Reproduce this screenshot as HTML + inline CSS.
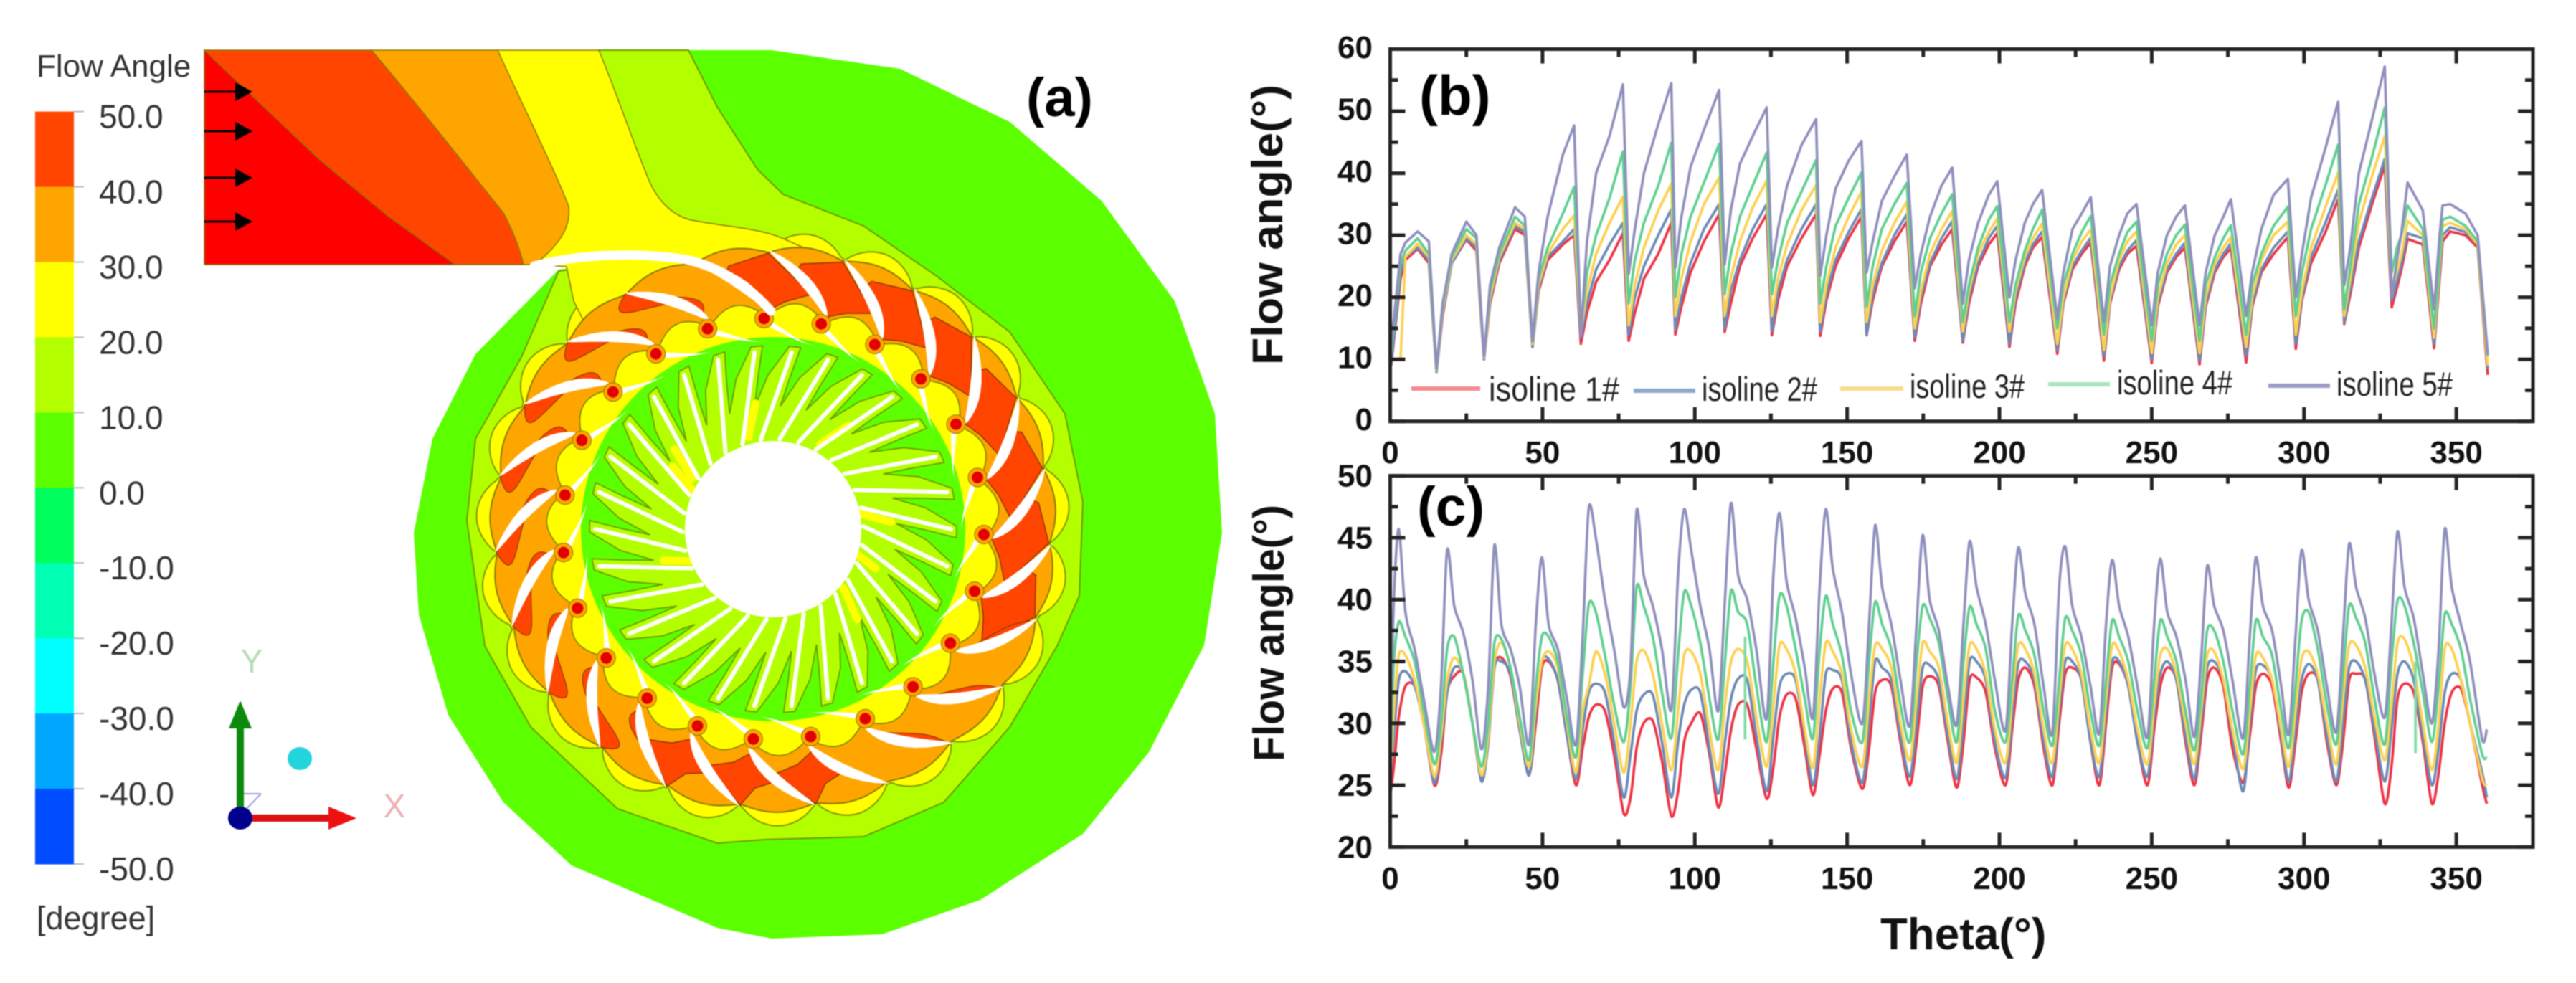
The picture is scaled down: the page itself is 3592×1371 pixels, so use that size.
<!DOCTYPE html>
<html lang="en">
<head>
<meta charset="utf-8">
<title>Flow angle contour and isoline charts</title>
<style>
html,body{margin:0;padding:0;background:#fff;}
svg{display:block;font-family:"Liberation Sans",Arial,sans-serif;filter:blur(0.8px);}
</style>
</head>
<body>
<svg id="fig" width="3592" height="1371" viewBox="0 0 3592 1371" xmlns="http://www.w3.org/2000/svg">
  <rect x="0" y="0" width="3592" height="1371" fill="#fff"/>

  <g id="panelA">
    <g id="colorbar"></g>
    <text x="51" y="107" font-size="44" fill="#333">Flow Angle</text>
    <text x="51" y="1296" font-size="45" fill="#333">[degree]</text>

    <polygon fill="#5cff00" points="960,70 1076,70 1255,96 1408,170 1536,280 1638,420 1694,577 1704,743 1679,900 1602,1049 1510,1163 1367,1255 1230,1303 1076,1309 1000,1294 797,1207 702,1119 625,997 584,857 577,743 603,612 663,494 779,376 830,369 860,200"/>
    <polygon fill="#b3ff00" stroke="#6f9a00" stroke-width="2" points="835,70 960,70 1000,149 1056,236 1092,271 1204,315 1306,385 1408,463 1485,577 1510,700 1505,831 1474,901 1408,1014 1316,1119 1204,1167 1066,1171 1000,1176 861,1128 740,1014 676,901 651,726 663,612 727,498 779,378 830,372 835,200"/>
    <g id="rotorOuter"></g>

    <g stroke="#8a7a00" stroke-width="1.5">
      <path fill="#ffff00" d="M694 70 L835 70 C860 130 885 205 906 254 C918 280 935 298 960 306 C1000 315 1060 318 1090 332 L1120 345 L1090 380 L1000 420 L880 470 L830 480 L800 420 L790 372 L746 369 Z"/>
      <path fill="#ffa500" d="M518 70 L694 70 C730 150 775 240 793 288 C797 320 775 345 746 369 L634 369 Z"/>
      <path fill="#ff4500" d="M285 70 L518 70 C590 155 660 245 702 297 Q722 335 730 369 L285 369 Z"/>
      <path fill="#ff0000" d="M285 70 L446 223 L542 302 L635 369 L285 369 Z"/>
    </g>
    <g id="rotorInner"></g>

    <path d="M745 371 C800 356 880 350 957 362 C1010 374 1050 405 1075 434" fill="none" stroke="#fff" stroke-width="13" stroke-linecap="round"/>

    <g fill="#000" stroke="#000">
      <g><line x1="285" y1="128" x2="330" y2="128" stroke-width="3"/><polygon points="328,115 352,128 328,141" stroke="none"/></g>
      <g><line x1="285" y1="183" x2="330" y2="183" stroke-width="3"/><polygon points="328,170 352,183 328,196" stroke="none"/></g>
      <g><line x1="285" y1="248" x2="330" y2="248" stroke-width="3"/><polygon points="328,235 352,248 328,261" stroke="none"/></g>
      <g><line x1="285" y1="309" x2="330" y2="309" stroke-width="3"/><polygon points="328,296 352,309 328,322" stroke="none"/></g>
    </g>

    <g>
      <line x1="340" y1="1132" x2="364" y2="1107" stroke="#a0a0e8" stroke-width="2"/>
      <line x1="340" y1="1107" x2="364" y2="1107" stroke="#a0a0e8" stroke-width="2"/>
      <rect x="330" y="1012" width="10" height="125" fill="#0c8a0c"/>
      <polygon points="335,977 351,1016 319,1016" fill="#0c8a0c"/>
      <rect x="340" y="1136" width="122" height="10" fill="#dd1111"/>
      <polygon points="497,1141 458,1125 458,1157" fill="#ee1111"/>
      <ellipse cx="335" cy="1141" rx="17" ry="16" fill="#00008c"/>
      <ellipse cx="418" cy="1058" rx="17" ry="16" fill="#22d4dc"/>
      <text x="351" y="938" font-size="46" fill="#b4dcb4" text-anchor="middle">Y</text>
      <text x="550" y="1140" font-size="46" fill="#eeb0b0" text-anchor="middle">X</text>
    </g>
    <text x="1431" y="162" font-size="76" font-weight="bold" fill="#000">(a)</text>
  </g>

  <text transform="translate(1788,509) rotate(-90)" font-size="60" font-weight="bold" fill="#111" textLength="391" lengthAdjust="spacingAndGlyphs">Flow angle(°)</text>
  <text transform="translate(1790,1062) rotate(-90)" font-size="60" font-weight="bold" fill="#111" textLength="358" lengthAdjust="spacingAndGlyphs">Flow angle(°)</text>
  <text x="2622" y="1324" font-size="62" font-weight="bold" fill="#111">Theta(°)</text>

  <g id="chartB"></g>
  <g id="chartC"></g>

  <text x="1979" y="160" font-size="78" font-weight="bold" fill="#000">(b)</text>
  <text x="1976" y="733" font-size="77" font-weight="bold" fill="#000">(c)</text>

  <g>
    <g><line x1="1968" y1="542" x2="2064" y2="542" stroke="#f58a8e" stroke-width="6"/><text x="2076" y="559" font-size="47" fill="#222" textLength="182" lengthAdjust="spacingAndGlyphs">isoline 1#</text></g>
    <g><line x1="2278" y1="545" x2="2364" y2="545" stroke="#8ea8cc" stroke-width="6"/><text x="2373" y="559" font-size="47" fill="#222" textLength="161" lengthAdjust="spacingAndGlyphs">isoline 2#</text></g>
    <g><line x1="2566" y1="542" x2="2654" y2="542" stroke="#fbdc8c" stroke-width="6"/><text x="2663" y="555" font-size="47" fill="#222" textLength="160" lengthAdjust="spacingAndGlyphs">isoline 3#</text></g>
    <g><line x1="2856" y1="536" x2="2942" y2="536" stroke="#a8e6c0" stroke-width="6"/><text x="2952" y="550" font-size="47" fill="#222" textLength="161" lengthAdjust="spacingAndGlyphs">isoline 4#</text></g>
    <g><line x1="3163" y1="538" x2="3249" y2="538" stroke="#9c9cc8" stroke-width="6"/><text x="3258" y="552" font-size="47" fill="#222" textLength="162" lengthAdjust="spacingAndGlyphs">isoline 5#</text></g>
  </g>
</svg>

<script>
/* ---------- chart data: panel (b) ---------- */
var thetaB = [0.3,3.4,5,9,12.7, 15.2,17.2,20.2,25,28.3, 30.8,32.8,35.8,41,44.2, 46.7,48.7,51.7,56.7,60.4, 62.6,64.6,67.6,72,76.4, 78.3,80.3,83.3,88,92.3, 93.6,95.6,98.6,103,108, 109.8,111.8,114.8,119,123.6, 125.3,127.3,130.3,135,139.8, 141.2,143.2,146.2,150.5,154.7, 156.4,158.4,161.4,165.5,169.6, 172.2,174.2,177.2,181,184.5, 188,190,193,196.5,199.3, 203.3,205.3,208.3,211,214, 219,221,224,227,230, 234.3,236.3,239.3,242,245, 250,252,255,258,260.9, 265.7,267.7,270.7,273.5,276, 281,283,286,290,294.7, 297.3,299.3,302.3,307,311.2, 313.2,315.2,318,322,326.5, 328.8,330.5,332,334,339, 342.7,344.5,345.5,348,353,357,360.3];
var isoline1B = [9,23,26,27.8,25.5, 8,17,25.5,29.3,27.5, 10,19,25.5,31,30, 12,21,26,28.5,30, 12.5,17.5,22.5,26,30.3, 13,17.5,23,27,32, 14,18.5,24,29,33.4, 14.4,19,25,29.5,33.4, 13.9,19.5,25,29.5,33.4, 13.8,19.5,25,29.5,33, 13.9,19.5,25,29,32.2, 13,19,25,28.5,31, 12.7,19,25,28.5,30.3, 12,19,25,28,29.7, 10.9,19,24.5,27,28.8, 9.8,19,24.5,27,28.3, 9.4,18.5,24,26.5,28, 9.2,18.5,24,26.5,27.9, 9.5,18.5,24,27,29.7, 11.7,19.5,25.5,30.5,35.8, 15.7,20.5,28,34.5,41.3, 18.4,21.5,24.5,29.4,28.5, 11.8,23,29,30.6,30,28,7.5];
var isoline2B = [9.5,24,26.5,28,26, 8,17.5,25.5,29.5,28, 10,19.5,26,31.5,30.5, 12,21.5,26.5,29,31, 13.5,19,24.5,28.5,32, 14,20,25,30,34.2, 14.8,20,25.5,31,35, 15,21,26,31,35, 14.5,21,26,31,35, 14.5,20.5,26,30.5,34.2, 14,20.5,25.5,30,33.4, 13.5,20,25.5,29.5,32.3, 13,20,25.5,29.5,31.5, 12.5,20,25.5,28.5,30.6, 11.5,19.5,25,27.5,29.6, 10.5,19.5,25,27.5,29.2, 10,19,24.5,27,28.8, 9.8,19,24.5,27,28.7, 10.5,19,24.5,28,30.6, 12.5,20,26.5,32,37.3, 16,21.5,29,35.5,42.3, 19.5,22.5,25.5,30.3,29.5, 12.5,24,30,31.3,30.5,28.5,8.5];
var isoline3B = [10,10,26.5,28.6,26.5, 8.2,18,26,30,28.5, 10.3,20,26.5,32,31, 12.5,22,27,31,33.2, 14.5,21,27,32,36.2, 15.5,22,28,34,38.3, 17,23,29,35,39.3, 17,23,29,34.5,38.8, 17,23,28.5,34,38.1, 16,22,28,33,37, 16,22,27.5,32,35.4, 15,21,27,31,33.9, 14.5,21,27,30.5,32.7, 14.5,21,26.5,29.5,31.9, 12.5,20,26,29,30.9, 11.5,20,26,29,30.6, 11,20,25.5,28.5,30, 11,20,25.5,28,29.7, 12,20,26,30,32.2, 14,21,28,34.5,40.1, 17,23,32,39,46, 21,24,27,32.3,30, 13.5,25,31.5,32,31,28.5,9];
var isoline4B = [11,25.5,27.5,29.5,27, 8.3,18.5,26.5,31,29.5, 10.5,21,27,33,31.5, 12.8,23,28,33.5,37.8, 15,24,30,36,43.5, 19,26,32,38,44.9, 20,27,33,38.5,44.7, 20.5,27,33,38,43.3, 20.5,26,32,37,42.1, 19,25,31.5,36,40.1, 18.5,25,31,35,38.4, 17,24,29.5,33.5,36.6, 16,22,28,32.5,34.7, 16,22,27.5,31,34.1, 15,22,27,30.5,33.1, 14,22,27,30.5,32.2, 13,22,27,30,31.7, 13,22,26.5,29.5,31.6, 14,22,27,31.5,34.6, 17,24,31,38,44.6, 18,25,35,42,50.6, 24,28,30,34.8,31, 15,26,32.5,33,31.5,29,10.5];
var isoline5B = [12,27,28.8,30.6,29, 8.5,19,27,32.2,30, 10.5,22,28,34.5,33, 13,24,33,43,47.7, 13.8,29,40,46,54.3, 23.8,31,40,47.9,54.5, 24.8,33,41,47,53.4, 25.3,34,41.5,46,50.6, 24.8,31,38,44.5,48.7, 23.5,30,37.5,42,45.2, 24,29,35.5,39.5,43, 21.5,27,33,38,40.9, 19,26,32,36.5,38.7, 20,26,32,35,37.3, 16.5,24,31,33.5,36.1, 16,25,30,33.5,35, 15.5,24,30,33,34.8, 15.5,24,30,33,35.8, 17,24,31,36.5,39.1, 20,27,36,44,51.5, 22,28,40,48,57.2, 20,26,30.5,38.5,34, 18,30,34.8,35,33.5,30,10.8];

var xTicksMajor = [0,50,100,150,200,250,300,350];
var xTicksMinor = [25,75,125,175,225,275,325];
var yTicksMajorB = [0,10,20,30,40,50,60];
var yTicksMinorB = [5,15,25,35,45,55];

/* ---------- chart data: panel (c) ---------- */
var thetaC = [0.2,1.2,2.8,5,8,11, 14.5,16.7,18.7,21,24,27, 30,32.2,34.2,36.5,39.5,42.5, 45.6,47.8,49.8,52,55,58, 61,63.2,65.2,67.5,70.5,73.5, 76.7,78.9,80.9,83.2,86.2,89.2, 92.3,94.5,96.5,98.8,101.8,104.8, 107.7,109.9,111.9,114.2,117.2,120.2, 123.6,125.8,127.8,130.1,133.1,136.1, 138.8,141,143,145.3,148.3,151.3, 155,157.2,159.2,161.5,164.5,167.5, 170.6,172.8,174.8,177.1,180.1,183.1, 186,188.2,190.2,192.5,195.5,198.5, 202,204.2,206.2,208.5,211.5,214.5, 217.4,219.6,221.6,223.9,226.9,229.9, 232.8,235,237,239.3,242.3,245.3, 248.6,250.8,252.8,255.1,258.1,261.1, 264,266.2,268.2,270.5,273.5,276.5, 280,282.2,284.2,286.5,289.5,292.5, 295,297.2,299.2,301.5,304.5,307.5, 310.6,312.8,314.8,317.1,320.1,323.1, 326.5,328.7,330.7,333,336,339, 342,344.2,346.2,348.5,351.5,354.5,358.5,360];
var isoline1C = [24.5,26.5,30.5,33,33,30, 25,27.5,32.5,33.8,34,30, 25.4,28.5,34.5,35.3,33.8,29.5, 25.9,30,34.5,35,33.5,29, 25,28,30.5,31.5,31,27.5, 22.7,24,28,30,30.2,27, 22.5,24.5,28.5,30,30.8,27.5, 23.2,26,29.5,31.5,31.5,28, 23.9,26.5,30.5,32.3,32,28, 24.2,27.5,31,32.8,32.5,28, 24.7,28,32.5,33.5,33,28.5, 25,28.5,33,33.8,33,28.5, 24.8,28.5,33.5,33.7,32.5,28, 25,29.5,33.5,34.5,33,28, 25,30,34,34.5,33.5,28.5, 25,30,34.5,34.8,33,28.5, 25,29.5,33,34.5,33.5,28.5, 25,29,33.5,34.5,33,28, 25.2,29,33,34,33,28.5, 24.8,28.5,32.5,34,33.5,28.5, 25,28.5,33.5,34,33.5,29, 23.5,26.5,32,33.2,32.5,28.5, 23.5,26,30,32.5,32.8,30,25,23.5];
var isoline2C = [26,29,33.5,34.2,33,30, 25.2,28.5,32.5,34.5,34,30, 25.3,28.5,34.5,35,34,29.5, 25.8,31,35,35.2,33.5,29, 25.5,29.5,32.5,33.2,32.5,28.5, 24,27.5,31,32.3,32.3,28.5, 24,28.5,31.5,32.7,32.5,28, 24.3,28.5,32,33.6,33.5,29, 24.5,29,33,34,33.5,29, 25,29,34,34.3,33.5,28.5, 25.2,30,35,34.5,33.5,29, 25.7,30,34.5,34.7,33.5,29, 25.5,30,35,35,33.5,28.5, 25.6,30.5,34.8,35,33.5,28.5, 25.7,31,35,35,33.5,28.5, 25.7,31,35,35,33,28.5, 25.7,30.5,34,35,33.5,29, 25.5,30,34.5,35,33.5,29, 24.5,30,34.3,34.7,33.5,29, 25.3,29.5,33.5,34.8,33.5,29, 25.3,30,34.5,35,33.5,29.5, 25.3,29.5,34,35,33.5,29, 25,28,32.5,34,33.5,30,26,24];
var isoline3C = [26.5,31,35.5,35.5,33.5,30, 25.7,29,33.5,35.3,34,30, 25.8,29,35,36.5,34.5,30, 26.5,31.5,35,35.8,34.5,30, 26,31,33,35.8,34,30, 26,30,35,35.9,34,30, 26.2,31,35.5,35.8,34,29.5, 26.2,31.5,35,36,35,30.5, 26.5,31.5,36.3,36,34,29.5, 26.4,32,36.5,35.8,34,29.5, 26.5,32,36.3,36,34.5,30, 27,32,36.5,35.8,34.5,30, 26.8,32,36.3,36,34,29.5, 26.8,32,36.3,36,34,29.5, 26.8,32,36.3,36,34,29.5, 26.8,32,36.3,35.8,33.5,29.5, 26.7,31.5,35.5,36,34,30, 26.7,31,35.5,35.8,33.5,29.5, 26.3,31,35.5,35.3,33.5,29.5, 26.5,31,35.2,35.8,34,30, 26.7,32,36.3,36.3,34.5,30.5, 27,31.5,36.5,36.8,34.5,30, 26.2,30,36,36,33.5,30,25.5,25];
var isoline4C = [28,35,38.2,37,35,31, 26.7,30,36,37,34,30, 26.5,30,36.5,36.8,34.5,30.5, 27,33,37,37,35,30.5, 27.3,34,39.6,39,35.5,31.5, 28.5,33,41,39.5,37,32.5, 28.8,35.5,40.6,39.5,36.5,32, 28.7,35,40.7,39,38,33, 28.5,35,40.3,39.5,36,32, 28.8,36,40.3,38,35.5,31, 28.5,35,39.8,38,36,31.5, 28.5,35,39.5,38.5,36.5,32, 28.5,35,39.4,38,36,31, 28.5,33.5,38.7,37.5,35.5,31, 28.2,33.5,38.5,37.5,35.5,31, 28.2,33.5,38.3,37,35,31, 28,33.5,38.3,37,35,31, 27.8,32,37.5,37.5,35,31, 27.5,33,38.3,37,35.5,31, 28,33,38.3,39,36,31.5, 28.3,34,39.5,38.5,36.5,32, 28.3,35,39.9,39.5,36.5,32.5, 28.5,33,38.8,38,36,32,27.5,27.2];
var isoline5C = [30,40,45.7,39,36,32, 27.7,33,44,39.5,37.3,33.5, 27.9,33,44.4,38,36,33, 28.3,38,43.4,38,36,32, 28.3,37,47.4,45,40,36, 31.3,34.5,47.2,42,39.5,36, 31.1,42,47.3,44,39.5,36, 31,40,47.8,42,40,36, 30.4,42,47,41.5,38.5,34.5, 30.5,41,47.3,42.5,39,34, 30,38,46,41,38,33.5, 29.8,38,45.2,40,37.5,33, 29.9,38,44.7,41,38,33.5, 29.4,38,44.2,40.5,38,33, 29.2,41,44.3,39.5,37,33, 29.2,38,43.2,39.5,37,33, 28.9,38,43.3,39,37,33.5, 28.9,35,42.7,39.5,37.5,33.5, 28.8,37,43.4,39.5,37.5,33, 29.1,37,44,40,37.5,33, 29.3,37,44.5,41,38.5,34, 30.5,38,45.5,41,38.5,34, 30,36,45.7,41,38,35,28.7,29.5];
var strayThetaC = [116.5,336.6];
var strayTopC = [37,35];
var strayBottomC = [28.7,27.6];

var yTicksMajorC = [20,25,30,35,40,45,50];
var yTicksMinorC = [22.5,27.5,32.5,37.5,42.5,47.5];

var seriesNames = ['isoline-1','isoline-2','isoline-3','isoline-4','isoline-5'];
var seriesColors = ['#ee3344','#6a8ab8','#fdd050','#5fcf90','#8f8fbe'];

/* ---------- helpers ---------- */
var NS = 'http://www.w3.org/2000/svg';
function mk(parent, tag, props, text){
  var e = document.createElementNS(NS, tag);
  for (var k in props) e.setAttribute(k, props[k]);
  if (text !== undefined) e.textContent = text;
  parent.appendChild(e);
  return e;
}

/* ---------- line charts ---------- */
function drawChart(host, cfg){
  var xScale = function(t){ return cfg.left + t * 4.2475; };
  var yScale = function(v){ return cfg.bottom - (v - cfg.vMin) * cfg.pxPerUnit; };
  var right = cfg.right, top = cfg.top, bottom = cfg.bottom, left = cfg.left;

  var i;
  for (i = 0; i < cfg.series.length; i++){
    var vals = cfg.series[i], d = '';
    var pts = vals.map(function(v, j){ return [xScale(cfg.theta[j]), yScale(v)]; });
    if (cfg.smooth){
      d = 'M' + pts[0][0].toFixed(1) + ' ' + pts[0][1].toFixed(1);
      for (var j = 0; j < pts.length - 1; j++){
        var p0 = pts[Math.max(j - 1, 0)], p1 = pts[j], p2 = pts[j + 1], p3 = pts[Math.min(j + 2, pts.length - 1)];
        var k = 1 / 7;
        d += 'C' + (p1[0] + (p2[0] - p0[0]) * k).toFixed(1) + ' ' + (p1[1] + (p2[1] - p0[1]) * k).toFixed(1) + ' ' +
             (p2[0] - (p3[0] - p1[0]) * k).toFixed(1) + ' ' + (p2[1] - (p3[1] - p1[1]) * k).toFixed(1) + ' ' +
             p2[0].toFixed(1) + ' ' + p2[1].toFixed(1);
      }
    } else {
      d = 'M' + pts.map(function(q){ return q[0].toFixed(1) + ' ' + q[1].toFixed(1); }).join('L');
    }
    var line = mk(host, 'path', {d: d, fill: 'none', stroke: seriesColors[i], 'stroke-width': 3.6, 'stroke-linejoin': 'round'});
    
    
  }

  if (cfg.stray){
    for (i = 0; i < cfg.stray.theta.length; i++){
      var st = mk(host, 'line', {x1: xScale(cfg.stray.theta[i]), x2: xScale(cfg.stray.theta[i]), y1: yScale(cfg.stray.top[i]), y2: yScale(cfg.stray.bottom[i]), stroke: '#7fdca6', 'stroke-width': 3.6});
      
      
    }
  }

  var frame = mk(host, 'rect', {x: left, y: top, width: right - left, height: bottom - top, fill: 'none', stroke: '#222', 'stroke-width': 5});
  
  

  function tickPath(vals, len, axis){
    var d = '';
    vals.forEach(function(v){
      if (axis === 'x'){
        var x = xScale(v).toFixed(1);
        d += 'M' + x + ' ' + top + 'V' + (top + len) + 'M' + x + ' ' + bottom + 'V' + (bottom - len);
      } else {
        var y = yScale(v).toFixed(1);
        d += 'M' + left + ' ' + y + 'H' + (left + len) + 'M' + right + ' ' + y + 'H' + (right - len);
      }
    });
    return d;
  }
  var tx = mk(host, 'path', {d: tickPath(xTicksMajor, 20, 'x') + tickPath(xTicksMinor, 11, 'x'), stroke: '#222', 'stroke-width': 5, fill: 'none'});
  
  
  var ty = mk(host, 'path', {d: tickPath(cfg.yMajor, 21, 'y') + tickPath(cfg.yMinor, 11, 'y'), stroke: '#222', 'stroke-width': 5, fill: 'none'});
  
  

  xTicksMajor.forEach(function(v){
    var t = mk(host, 'text', {x: xScale(v), y: cfg.xLabelY, 'text-anchor': 'middle', 'font-size': 44, 'font-weight': 'bold', fill: '#111'}, String(v));
    
    
  });
  cfg.yMajor.forEach(function(v){
    var t = mk(host, 'text', {x: 1914, y: yScale(v) + cfg.yLabelDy, 'text-anchor': 'end', 'font-size': 44, 'font-weight': 'bold', fill: '#111'}, String(v));
    
    
  });
}

drawChart(document.getElementById('chartB'), {
  id: 'chart-b', left: 1938.5, right: 3532, top: 68.5, bottom: 587.7, vMin: 0, pxPerUnit: 8.653,
  theta: thetaB, series: [isoline1B, isoline2B, isoline3B, isoline4B, isoline5B],
  smooth: false, yMajor: yTicksMajorB, yMinor: yTicksMinorB, xLabelY: 646, yLabelDy: 12.5
});
drawChart(document.getElementById('chartC'), {
  id: 'chart-c', left: 1938.5, right: 3532, top: 663.6, bottom: 1181.4, vMin: 20, pxPerUnit: 17.26,
  theta: thetaC, series: [isoline1C, isoline2C, isoline3C, isoline4C, isoline5C],
  stray: {theta: strayThetaC, top: strayTopC, bottom: strayBottomC},
  smooth: true, yMajor: yTicksMajorC, yMinor: yTicksMinorC, xLabelY: 1240, yLabelDy: 15
});

/* ---------- colour bar ---------- */
var barColors = ['#ff4500','#ffa500','#ffff00','#b3ff00','#5cff00','#00ff5c','#00ffb3','#00ffff','#00a6ff','#004dff'];
var barLabels = ['50.0','40.0','30.0','20.0','10.0','0.0','-10.0','-20.0','-30.0','-40.0','-50.0'];
(function(){
  var host = document.getElementById('colorbar');
  var top = 155.6, step = 104.94;
  barColors.forEach(function(c, i){
    var r = mk(host, 'rect', {x: 49, y: top + i * step, width: 54, height: step + 0.5, fill: c});
    
    
  });
  barLabels.forEach(function(l, i){
    var y = top + i * step;
    var tick = mk(host, 'line', {x1: 103, x2: 117, y1: y, y2: y, stroke: '#bbb', 'stroke-width': 2});
    
    
    var t = mk(host, 'text', {x: 138, y: y + 23, 'font-size': 46, fill: '#333'}, l);
    
    
  });
})();

/* ---------- rotor / stator contour illustration ---------- */
(function(){
  var cx = 1078, cy = 738, pitch = 360 / 23;
  var rad = Math.PI / 180;
  function P(r, d){ return [cx + r * Math.cos(d * rad), cy + r * Math.sin(d * rad)]; }
  function S(p){ return p[0].toFixed(1) + ',' + p[1].toFixed(1); }
  function closed(list){ return 'M' + list.map(S).join('L') + 'Z'; }
  function radial(fn){
    var out = [];
    for (var d = 0; d < 360; d += 1) out.push(P(fn(d), d));
    return closed(out);
  }
  function phase(d, start){
    var m = (d - start) % pitch;
    if (m < 0) m += pitch;
    return m / pitch;
  }
  var A0 = -91, B0 = -76;
  function bladeAng(a, r){ return a + 15.5 * (390 - r) / 87; }

  var outer = document.getElementById('rotorOuter');
  var inner = document.getElementById('rotorInner');

  var lobe = mk(outer, 'path', {d: radial(function(d){ return 384 + 30 * Math.pow(Math.sin(Math.PI * phase(d, A0)), 0.7); }), fill: '#ffff00', stroke: '#7f9a00', 'stroke-width': 2});
  
  

  var ora = mk(inner, 'path', {d: radial(function(d){ return 386 + 9 * Math.sin(Math.PI * phase(d, A0)); }), fill: '#ffa500', stroke: '#8a7a00', 'stroke-width': 2});
  
  

  /* red-orange passage cells on the upper right */
  var redD = '';
  var i, a;
  for (i = -1; i < 7; i++){
    a = A0 + i * pitch;
    var n = a + pitch;
    redD += closed([
      P(357, bladeAng(a, 357)),
      P(372, a + pitch * 0.45),
      P(385, n),
      P(332, bladeAng(n, 332)),
      P(318, bladeAng(a, 318) + 7),
      P(305, bladeAng(a, 305))
    ]);
  }
  /* bow-tie cells along the bottom */
  for (i = 10; i < 13; i++){
    a = A0 + i * pitch;
    var m = a + pitch;
    var midLow = (bladeAng(a, 362) + bladeAng(m, 362)) / 2;
    var midHigh = (bladeAng(a, 330) + bladeAng(m, 330)) / 2;
    redD += closed([
      P(312, bladeAng(a, 312)),
      P(350, bladeAng(a, 350)),
      P(362, midLow),
      P(388, m),
      P(342, bladeAng(m, 342)),
      P(330, midHigh)
    ]);
  }
  var redCells = mk(inner, 'path', {d: redD, fill: '#ff4500', stroke: '#8a3a00', 'stroke-width': 1.5});
  
  

  /* crescents hugging the vanes on the lower left */
  var cresD = '';
  function crescent(ang, rStart, rSpan, bulge){
    var side1 = [], side2 = [], t;
    for (t = 0; t <= 1.001; t += 0.1){
      var r = rStart - rSpan * t;
      side1.push(P(r, bladeAng(ang, r)));
      side2.unshift(P(r, bladeAng(ang, r) + bulge * Math.sin(Math.PI * t)));
    }
    return closed(side1.concat(side2));
  }
  for (i = 14; i < 22; i++){
    cresD += crescent(A0 + i * pitch, 388, 42, -6.5);
  }
  for (i = 13; i < 22; i++){
    cresD += crescent(A0 + i * pitch, 360, 48, 4.5);
  }
  for (i = 7; i < 10; i++){
    cresD += crescent(A0 + i * pitch, 385, 65, -2.4);
  }
  var cres = mk(inner, 'path', {d: cresD, fill: '#ff4500', stroke: '#8a3a00', 'stroke-width': 1.2});
  
  

  /* inner yellow ring */
  var yel = mk(inner, 'path', {d: radial(function(d){ return 296 + 20 * Math.sin(Math.PI * phase(d, B0)); }), fill: '#ffff00', stroke: '#8a8a00', 'stroke-width': 1.8});
  
  

  /* outer white vanes */
  var vaneD = '';
  for (i = 0; i < 23; i++){
    a = A0 + i * pitch;
    var up = [], dn = [], q;
    for (q = 0; q <= 1.0001; q += 0.1){
      var rr = 390 - 87 * q;
      var bow = 1.0 * Math.sin(Math.PI * q);
      var hw = 1.9 * Math.pow(Math.sin(Math.PI * q), 0.75);
      var ang = a + 15.5 * q + bow;
      up.push(P(rr, ang + hw));
      dn.unshift(P(rr, ang - hw));
    }
    vaneD += closed(up.concat(dn));
  }
  var vanes = mk(inner, 'path', {d: vaneD, fill: '#fff'});
  
  

  /* green impeller disc */
  var disc = mk(inner, 'circle', {cx: cx, cy: cy, r: 268, fill: '#5cff00'});
  
  

  /* yellow-green star around impeller blades */
  var BL = 30, bs = 12, C0 = -97, star = [];
  function bAng(c, r){ return c + 13 * (r - 133) / 115; }
  for (i = 0; i < BL; i++){
    var c = C0 + i * bs;
    star.push(P(256, bAng(c, 256) - 1.8));
    star.push(P(256, bAng(c, 256) + 1.8));
    star.push(P(215, bAng(c, 215) + 4.2));
    star.push(P(172, bAng(c, 172) + 6));
    star.push(P(215, bAng(c + bs, 215) - 4.2));
  }
  var starEl = mk(inner, 'path', {d: closed(star), fill: '#b3ff00', stroke: '#6f9a00', 'stroke-width': 1.8});
  
  

  /* small yellow spindles near the hub */
  var spinR = [157,143,131,150,155,155,137,143];
  var spinA = [-59,-8.5,16,42,-103,-146,159,-153];
  var spinD = '';
  spinA.forEach(function(s, j){
    var p1 = P(spinR[j] - 22, s - 2), p2 = P(spinR[j] + 22, s + 5);
    spinD += 'M' + S(p1) + 'L' + S(p2);
  });
  var spin = mk(inner, 'path', {d: spinD, stroke: '#ffff00', 'stroke-width': 11, 'stroke-linecap': 'round', fill: 'none'});
  
  

  /* thin white impeller blades */
  var bladeD = '';
  for (i = 0; i < BL; i++){
    var cb = C0 + i * bs;
    bladeD += 'M' + S(P(126, bAng(cb, 126))) + 'L' + S(P(248, bAng(cb, 248)));
  }
  var blades = mk(inner, 'path', {d: bladeD, stroke: '#fff', 'stroke-width': 6, fill: 'none', 'stroke-linecap': 'round'});
  
  

  var hub = mk(inner, 'circle', {cx: cx, cy: cy, r: 123, fill: '#fff'});
  
  

  /* inner wedge vanes with red stagnation spots */
  var wedgeD = '', haloD = '', spotD = '';
  for (i = 0; i < 23; i++){
    var b = B0 + i * pitch, w1 = [], w2 = [], u;
    for (u = 0; u <= 1.0001; u += 0.125){
      var rw = 288 - 26 * Math.sin(u * Math.PI / 2);
      var hwi = 1.7 * Math.pow(1 - u, 0.8);
      w1.push(P(rw, b + 14.5 * u + hwi));
      w2.unshift(P(rw, b + 14.5 * u - hwi));
    }
    wedgeD += closed(w1.concat(w2));
    var ctr = P(294, b - 0.8);
    haloD += 'M' + (ctr[0] - 13) + ' ' + ctr[1] + 'a13 13 0 1 0 26 0a13 13 0 1 0 -26 0Z';
    spotD += 'M' + (ctr[0] - 8) + ' ' + ctr[1] + 'a8 8 0 1 0 16 0a8 8 0 1 0 -16 0Z';
  }
  var wedge = mk(inner, 'path', {d: wedgeD, fill: '#fff'});
  
  
  var halo = mk(inner, 'path', {d: haloD, fill: '#ffa500', stroke: '#8a7a00', 'stroke-width': 1});
  
  
  var spot = mk(inner, 'path', {d: spotD, fill: '#e00000'});
  
  
})();
</script>
</body>
</html>
